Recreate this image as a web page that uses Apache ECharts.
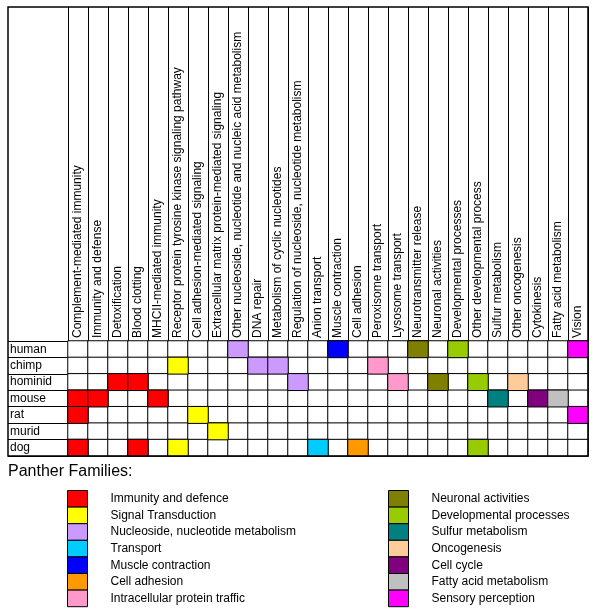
<!DOCTYPE html>
<html><head><meta charset="utf-8">
<script src="https://cdn.jsdelivr.net/npm/echarts@6/dist/echarts.min.js"></script>
<style>html,body{margin:0;padding:0;background:#fff}#c{width:600px;height:612px}</style>
</head><body><div id="c"></div>
<script>
const species = ['human','chimp','hominid','mouse','rat','murid','dog'];
const processes = ['Complement-mediated immunity','Immunity and defense','Detoxification','Blood clotting','MHCII-mediated immunity','Receptor protein tyrosine kinase signaling pathway','Cell adhesion-mediated signaling','Extracellular matrix protein-mediated signaling','Other nucleoside, nucleotide and nucleic acid metabolism','DNA repair','Metabolism of cyclic nucleotides','Regulation of nucleoside, nucleotide metabolism','Anion transport','Muscle contraction','Cell adhesion','Peroxisome transport','Lysosome transport','Neurotransmitter release','Neuronal activities','Developmental processes','Other developmental process','Sulfur metabolism','Other oncogenesis','Cytokinesis','Fatty acid metabolism','Vision'];
const families = ['Immunity and defence','Signal Transduction','Nucleoside, nucleotide metabolism','Transport','Muscle contraction','Cell adhesion','Intracellular protein traffic','Neuronal activities','Developmental processes','Sulfur metabolism','Oncogenesis','Cell cycle','Fatty acid metabolism','Sensory perception'];
const familyColors = ['#FF0000','#FFFF00','#CC99FF','#00CCFF','#0000FF','#FF9900','#FF99CC','#808000','#99CC00','#008080','#FFCC99','#800080','#C0C0C0','#FF00FF'];
const processFamily = [0,0,0,0,0,1,1,1,2,2,2,2,3,4,5,6,6,7,7,8,8,9,10,11,12,13];
const hits = {
  human:   [8,13,17,19,25],
  chimp:   [5,9,10,15],
  hominid: [2,3,11,16,18,20,22],
  mouse:   [0,1,4,21,23,24],
  rat:     [0,6,25],
  murid:   [7],
  dog:     [0,3,5,12,14,20]
};

const FONT = 'Liberation Sans, Arial, sans-serif';
const G = {left:68, right:12, top:341, bottom:156};
const frame = {x:8, y:7};

const bg = [];
species.forEach((s,r)=>processes.forEach((p,c)=>bg.push([c,r,0])));
const famData = families.map(()=>[]);
species.forEach((s,r)=>hits[s].forEach(c=>famData[processFamily[c]].push([c,r,1])));

const cellStyle = {borderColor:'#000', borderWidth:1};
const series = [{
  type:'heatmap', name:'bg', data:bg, silent:true,
  itemStyle:Object.assign({color:'#fff'}, cellStyle)
}].concat(families.map((f,i)=>({
  type:'heatmap', name:f, data:famData[i], silent:true,
  itemStyle:Object.assign({color:familyColors[i]}, cellStyle)
})));

const chart = echarts.init(document.getElementById('c'), null, {renderer:'canvas'});
const W = 600, H = 612;
const gridRight = W - G.right, gridBottom = H - G.bottom;
const legendCommon = {
  top:490, height:121, orient:'vertical', padding:0,
  itemWidth:20, itemHeight:16.6, itemGap:-1, icon:'rect', selectedMode:false,
  itemStyle:{borderColor:'#000', borderWidth:1},
  textStyle:{fontSize:12, lineHeight:15, color:'#000', fontFamily:FONT, padding:[0,0,0,18]}
};
chart.setOption({
  animation:false,
  backgroundColor:'#fff',
  textStyle:{fontFamily:FONT},
  title:{text:'Panther Families:', left:8, top:464, padding:0,
    textStyle:{fontFamily:FONT, fontSize:16, fontWeight:'normal', color:'#000'}},
  grid:{left:G.left, right:G.right, top:G.top, bottom:G.bottom, containLabel:false},
  xAxis:{type:'category', data:processes, position:'top',
    axisLine:{show:true, lineStyle:{color:'#000', width:1}},
    axisTick:{show:true, interval:0, length:G.top-frame.y, lineStyle:{color:'#000', width:1}},
    axisLabel:{interval:0, rotate:-90, margin:3, fontSize:12, color:'#000', fontFamily:FONT},
    splitLine:{show:false}},
  yAxis:{type:'category', data:species, inverse:true,
    axisLine:{show:true, lineStyle:{color:'#000', width:1}},
    axisTick:{show:true, interval:0, length:G.left-frame.x, lineStyle:{color:'#000', width:1}},
    axisLabel:{interval:0, align:'left', margin:G.left-frame.x-2, fontSize:12, color:'#000', fontFamily:FONT},
    splitLine:{show:false}},
  legend:[
    Object.assign({data:families.slice(0,7), left:67}, legendCommon),
    Object.assign({data:families.slice(7), left:388}, legendCommon)
  ],
  graphic:[{type:'rect', silent:true, z:100,
    shape:{x:frame.x, y:frame.y, width:gridRight-frame.x, height:gridBottom-frame.y},
    style:{fill:'none', stroke:'#000', lineWidth:1.5}}],
  series:series
});
</script></body></html>
